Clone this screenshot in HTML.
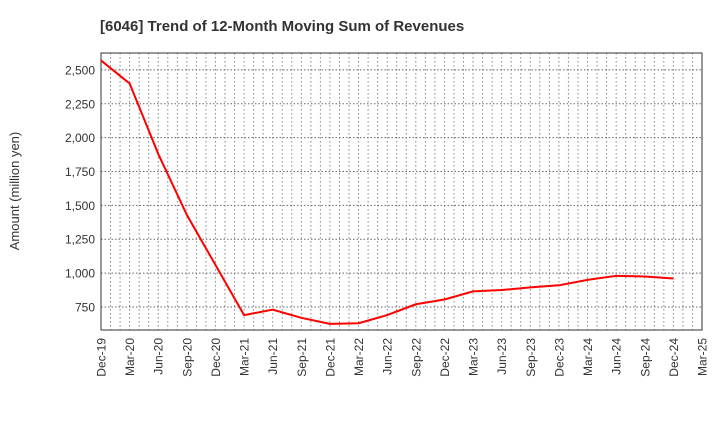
<!DOCTYPE html>
<html><head><meta charset="utf-8"><style>
body{margin:0;background:#fff;font-family:"Liberation Sans",sans-serif;}
</style></head><body>
<svg width="720" height="440" xmlns="http://www.w3.org/2000/svg">
<text x="100" y="31" font-size="15" font-weight="bold" fill="#333" font-family="Liberation Sans, sans-serif">[6046]  Trend of 12-Month Moving Sum of Revenues</text>
<text transform="translate(19,191) rotate(-90)" text-anchor="middle" font-size="13" fill="#333" font-family="Liberation Sans, sans-serif">Amount (million yen)</text>
<g id="grid"></g><g id="axes"></g><g id="series"></g>
</svg>
<script>
const categories=["Dec-19","Mar-20","Jun-20","Sep-20","Dec-20","Mar-21","Jun-21","Sep-21","Dec-21","Mar-22","Jun-22","Sep-22","Dec-22","Mar-23","Jun-23","Sep-23","Dec-23","Mar-24","Jun-24","Sep-24","Dec-24","Mar-25"];
const revenues=[2570,2400,1880,1430,1060,690,730,670,625,630,690,770,805,865,875,895,910,950,980,975,960];
const yTicks=[750,1000,1250,1500,1750,2000,2250,2500];
const yTickLabels=["750","1,000","1,250","1,500","1,750","2,000","2,250","2,500"];
const L=101,R=702,T=53,B=330,yMin=580,yMax=2625;
const xs=i=>L+(R-L)*i/(categories.length-1);
const ys=v=>B-(v-yMin)/(yMax-yMin)*(B-T);
const NS="http://www.w3.org/2000/svg";
function mk(tag,attrs,parent){const e=document.createElementNS(NS,tag);for(const k in attrs)e.setAttribute(k,attrs[k]);document.getElementById(parent).appendChild(e);return e;}
const months=(categories.length-1)*3;
for(let m=1;m<months;m++){const x=L+(R-L)*m/months;
const g=mk('line',{x1:x,x2:x,y1:T,y2:B,stroke:'#888','stroke-dasharray':'1.5,2.5','stroke-width':1},'grid');

}
yTicks.forEach((v,i)=>{const y=ys(v);
const g=mk('line',{x1:L,x2:R,y1:y,y2:y,stroke:'#666','stroke-dasharray':'1.5,2','stroke-width':1},'grid');


const t=mk('text',{x:L-6,y:y+4.5,'text-anchor':'end','font-size':12,fill:'#333'},'axes');t.textContent=yTickLabels[i];

});
categories.forEach((c,i)=>{const x=xs(i);
const t=mk('text',{transform:`translate(${x+4.5},${B+8}) rotate(-90)`,'text-anchor':'end','font-size':12,fill:'#333'},'axes');t.textContent=c;

});
const fr=mk('rect',{x:L,y:T,width:R-L,height:B-T,fill:'none',stroke:'#333','stroke-width':1},'axes');


const pl=mk('polyline',{points:revenues.map((v,i)=>xs(i)+','+ys(v)).join(' '),fill:'none',stroke:'#ff0000','stroke-width':2},'series');


</script>
</body></html>
